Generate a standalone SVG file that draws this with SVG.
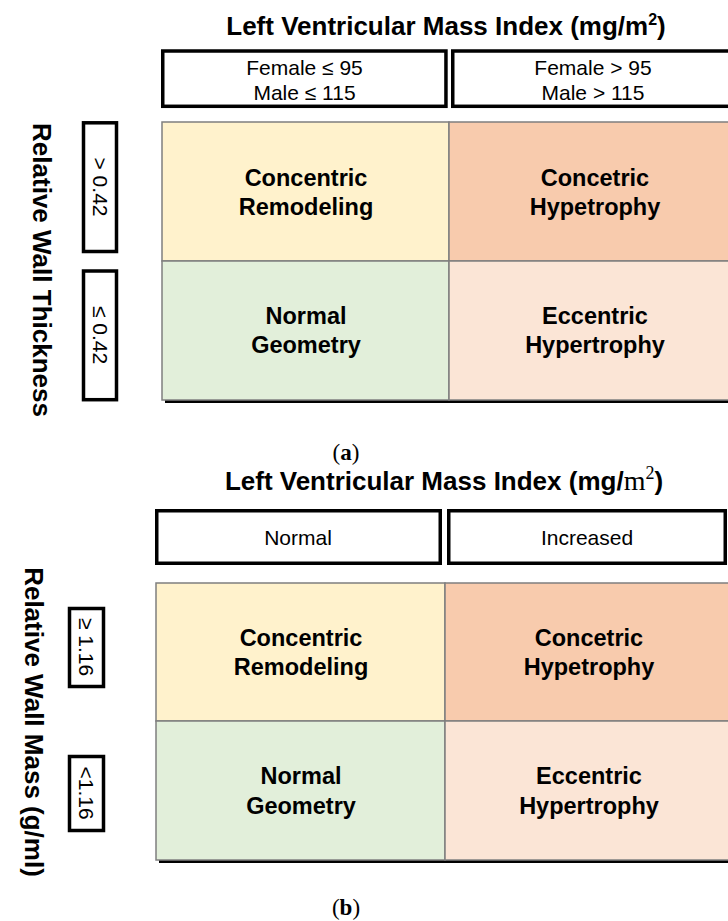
<svg xmlns="http://www.w3.org/2000/svg" width="728" height="921" viewBox="0 0 728 921">
<style>
.title{font-family:"Liberation Sans",Arial,sans-serif;font-weight:bold;font-size:26px;fill:#000;text-anchor:middle}
.vlabel{font-family:"Liberation Sans",Arial,sans-serif;font-weight:bold;font-size:26px;fill:#000;text-anchor:middle}
.hdr{font-family:"Liberation Sans",Arial,sans-serif;font-size:21px;fill:#000;text-anchor:middle}
.side{font-family:"Liberation Sans",Arial,sans-serif;font-size:21px;fill:#000;text-anchor:middle}
.cell{font-family:"Liberation Sans",Arial,sans-serif;font-weight:bold;font-size:23.5px;fill:#000;text-anchor:middle}
.cap{font-family:"Liberation Serif","Times New Roman",serif;font-size:23px;fill:#000;text-anchor:middle}
.box{fill:#fff;stroke:#000;stroke-width:3.5}
.grid{stroke:#7f7f7f;stroke-width:1.5}
.c1{fill:#FFF2CC}.c2{fill:#F8CBAD}.c3{fill:#E2EFDA}.c4{fill:#FBE5D6}
</style>
<rect width="728" height="921" fill="#fff"/>

<!-- Panel (a) -->
<text id="title-a" class="title" x="446" y="35">Left Ventricular Mass Index (mg/m<tspan font-size="16" dy="-10">2</tspan><tspan dy="10">)</tspan></text>

<g id="hdr-a-left"><rect class="box" x="162.75" y="51" width="283.2" height="55.3"/>
<text class="hdr" x="304.5" y="75">Female ≤ 95</text><text class="hdr" x="304.5" y="100">Male ≤ 115</text></g>
<g id="hdr-a-right"><rect class="box" x="452.75" y="51" width="300" height="55.3"/>
<text class="hdr" x="593" y="75">Female &gt; 95</text><text class="hdr" x="593" y="100">Male &gt; 115</text></g>

<text id="vlabel-a" class="vlabel" transform="translate(33,270) rotate(90)">Relative Wall Thickness</text>

<g id="side-a1"><rect class="box" x="83.5" y="122.8" width="33" height="128.7"/>
<text class="side" transform="translate(100,187) rotate(90)" y="7.5">&gt; 0.42</text></g>
<g id="side-a2"><rect class="box" x="83.5" y="271" width="33" height="128.7"/>
<text class="side" transform="translate(100,335) rotate(90)" y="7.5">≤ 0.42</text></g>

<rect x="165" y="399.5" width="580" height="3.5" fill="#000"/>
<g id="cell-a-cr"><rect class="c1 grid" x="162" y="122" width="287" height="139"/>
<text class="cell" x="306" y="186">Concentric</text><text class="cell" x="306" y="215">Remodeling</text></g>
<g id="cell-a-ch"><rect class="c2 grid" x="449" y="122" width="292" height="139"/>
<text class="cell" x="595" y="186">Concetric</text><text class="cell" x="595" y="215">Hypetrophy</text></g>
<g id="cell-a-ng"><rect class="c3 grid" x="162" y="261" width="287" height="139"/>
<text class="cell" x="306" y="324">Normal</text><text class="cell" x="306" y="353">Geometry</text></g>
<g id="cell-a-eh"><rect class="c4 grid" x="449" y="261" width="292" height="139"/>
<text class="cell" x="595" y="324">Eccentric</text><text class="cell" x="595" y="353">Hypertrophy</text></g>

<text id="cap-a" class="cap" x="346" y="460">(<tspan font-weight="bold">a</tspan>)</text>

<!-- Panel (b) -->
<text id="title-b" class="title" x="444" y="490">Left Ventricular Mass Index (mg/<tspan font-family="Liberation Serif,serif" font-weight="normal" font-size="28">m</tspan><tspan font-family="Liberation Serif,serif" font-weight="normal" font-size="18" dy="-11">2</tspan><tspan dy="11">)</tspan></text>

<g id="hdr-b-left"><rect class="box" x="156.75" y="510.75" width="283.5" height="52.5"/>
<text class="hdr" x="298" y="545">Normal</text></g>
<g id="hdr-b-right"><rect class="box" x="448.75" y="510.75" width="276.5" height="52.5"/>
<text class="hdr" x="587" y="545">Increased</text></g>

<text id="vlabel-b" class="vlabel" transform="translate(25,722) rotate(90)">Relative Wall Mass  (g/ml)</text>

<g id="side-b1"><rect class="box" x="69.5" y="608.5" width="34" height="78" stroke-width="3"/>
<text class="side" transform="translate(86,647) rotate(90)" y="7.5">≥ 1.16</text></g>
<g id="side-b2"><rect class="box" x="69.5" y="756.5" width="34" height="74" stroke-width="3"/>
<text class="side" transform="translate(86,793) rotate(90)" y="7.5">&lt;1.16</text></g>

<rect x="159" y="859.5" width="580" height="3.5" fill="#000"/>
<g id="cell-b-cr"><rect class="c1 grid" x="156" y="583" width="289" height="138"/>
<text class="cell" x="301" y="646">Concentric</text><text class="cell" x="301" y="675">Remodeling</text></g>
<g id="cell-b-ch"><rect class="c2 grid" x="445" y="583" width="292" height="138"/>
<text class="cell" x="589" y="646">Concetric</text><text class="cell" x="589" y="675">Hypetrophy</text></g>
<g id="cell-b-ng"><rect class="c3 grid" x="156" y="721" width="289" height="139"/>
<text class="cell" x="301" y="784">Normal</text><text class="cell" x="301" y="814">Geometry</text></g>
<g id="cell-b-eh"><rect class="c4 grid" x="445" y="721" width="292" height="139"/>
<text class="cell" x="589" y="784">Eccentric</text><text class="cell" x="589" y="814">Hypertrophy</text></g>

<text id="cap-b" class="cap" x="346" y="915">(<tspan font-weight="bold">b</tspan>)</text>

<g id="connectors"></g>
</svg>
